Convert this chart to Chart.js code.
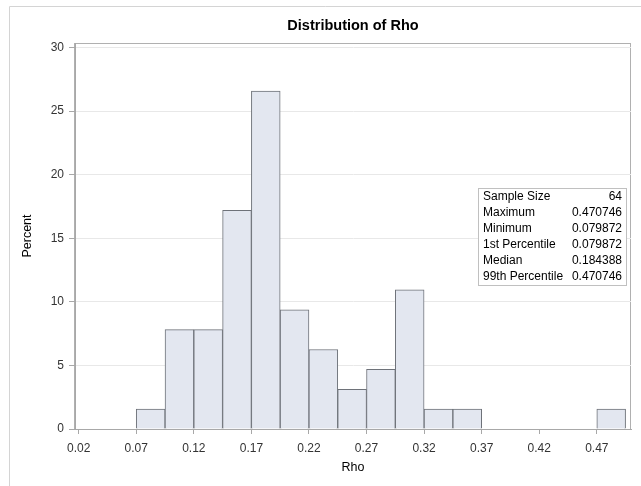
<!DOCTYPE html>
<html>
<head>
<meta charset="utf-8">
<script src="https://cdn.jsdelivr.net/npm/chart.js"></script>
<style>
  html, body { margin: 0; padding: 0; background: #fff; }
  #wrap { position: relative; width: 641px; height: 486px; }
</style>
</head>
<body>
<div id="wrap"><canvas id="hist" width="641" height="486"></canvas></div>
<script>
// bin midpoints (width 0.025) and percent of 64 observations
const binMids = [0.0825, 0.1075, 0.1325, 0.1575, 0.1825, 0.2075, 0.2325, 0.2575,
  0.2825, 0.3075, 0.3325, 0.3575, 0.3825, 0.4075, 0.4325, 0.4575, 0.4825];
const percents = [1.5625, 7.8125, 7.8125, 17.1875, 26.5625, 9.375, 6.25, 3.125,
  4.6875, 10.9375, 1.5625, 1.5625, 0, 0, 0, 0, 1.5625];
const xTicks = [0.02, 0.07, 0.12, 0.17, 0.22, 0.27, 0.32, 0.37, 0.42, 0.47];
const yTicks = [0, 5, 10, 15, 20, 25, 30];
const statLabels = ["Sample Size", "Maximum", "Minimum", "1st Percentile", "Median", "99th Percentile"];
const statValues = ["64", "0.470746", "0.079872", "0.079872", "0.184388", "0.470746"];

const FONT = "'Liberation Sans', Arial, sans-serif";

const framePlugin = {
  id: "frame",
  beforeDraw(chart) {
    const ctx = chart.ctx;
    ctx.save();
    ctx.strokeStyle = "#d4d4d4";
    ctx.lineWidth = 1;
    ctx.beginPath();
    ctx.moveTo(9.5, 486);
    ctx.lineTo(9.5, 6.5);
    ctx.lineTo(641, 6.5);
    ctx.stroke();
    // plot area border
    const a = chart.chartArea;
    ctx.strokeStyle = "#b0b0b0";
    ctx.strokeRect(a.left - 0.5, a.top + 0.5, a.right - a.left, a.bottom - a.top);
    ctx.restore();
  },
  afterDraw(chart) {
    const ctx = chart.ctx;
    ctx.save();
    // title
    ctx.font = "bold 14.5px " + FONT;
    ctx.fillStyle = "#000";
    ctx.textAlign = "center";
    ctx.textBaseline = "middle";
    const a = chart.chartArea;
    ctx.fillText("Distribution of Rho", (a.left + a.right) / 2, 26);
    // stats inset
    const bx = 478.5, by = 188.5, bw = 148, bh = 97;
    ctx.fillStyle = "#fff";
    ctx.fillRect(bx, by, bw, bh);
    ctx.strokeStyle = "#c0c0c0";
    ctx.strokeRect(bx, by, bw, bh);
    ctx.font = "12px " + FONT;
    ctx.fillStyle = "#000";
    for (let i = 0; i < statLabels.length; i++) {
      const y = 196.5 + i * 16;
      ctx.textAlign = "left";
      ctx.fillText(statLabels[i], 483, y);
      ctx.textAlign = "right";
      ctx.fillText(statValues[i], 622, y);
    }
    ctx.restore();
  }
};

new Chart(document.getElementById("hist"), {
  type: "bar",
  data: {
    datasets: [{
      data: binMids.map((x, i) => ({ x: x, y: percents[i] })),
      backgroundColor: "#e3e7f0",
      borderColor: "#6e7279",
      borderWidth: 1,
      barPercentage: 1,
      categoryPercentage: 1
    }]
  },
  options: {
    responsive: false,
    animation: false,
    layout: { padding: { top: 43, right: 10, left: 0, bottom: 0 } },
    plugins: { legend: { display: false }, tooltip: { enabled: false } },
    scales: {
      x: {
        type: "linear",
        offset: false,
        min: 0.0168,
        max: 0.4997,
        afterFit: (s) => { s.height = 57; },
        afterBuildTicks: (s) => { s.ticks = xTicks.map(v => ({ value: v })); },
        ticks: {
          callback: (v) => v.toFixed(2),
          font: { family: FONT, size: 12 },
          color: "#333",
          padding: 7,
          maxRotation: 0,
          autoSkip: false
        },
        grid: { offset: false, drawOnChartArea: false, tickLength: 5, tickColor: "#a8a8a8" },
        border: { color: "#a8a8a8" },
        title: {
          display: true,
          text: "Rho",
          font: { family: FONT, size: 12.5 },
          color: "#000",
          padding: { bottom: 11 }
        }
      },
      y: {
        min: 0,
        max: 30.35,
        afterFit: (s) => { s.width = 75; },
        afterBuildTicks: (s) => { s.ticks = yTicks.map(v => ({ value: v })); },
        ticks: {
          font: { family: FONT, size: 12 },
          color: "#333",
          padding: 5
        },
        grid: {
          color: (c) => c.tick && c.tick.value === 0 ? "rgba(0,0,0,0)" : "#e8e8e8",
          tickLength: 6,
          tickColor: "#a8a8a8"
        },
        border: { color: "#a8a8a8" },
        title: {
          display: true,
          text: "Percent",
          font: { family: FONT, size: 12.5 },
          color: "#000",
          padding: { top: 20 }
        }
      }
    }
  },
  plugins: [framePlugin]
});
</script>
</body>
</html>
